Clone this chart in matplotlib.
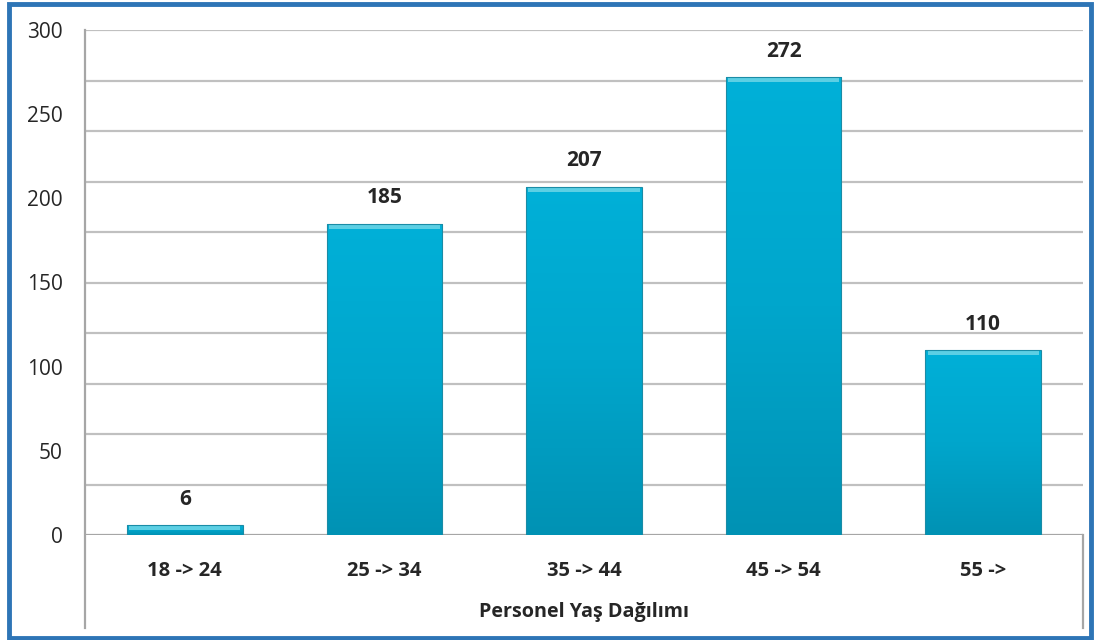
import matplotlib
matplotlib.use("Agg")
import matplotlib.pyplot as plt
import numpy as np
from matplotlib.lines import Line2D
from matplotlib.patches import Rectangle
from matplotlib.colors import LinearSegmentedColormap

categories = ["18 -> 24", "25 -> 34", "35 -> 44", "45 -> 54", "55 ->"]
values = [6, 185, 207, 272, 110]
ytick_values = [0, 50, 100, 150, 200, 250, 300]
grid_values = [30, 60, 90, 120, 150, 180, 210, 240, 270, 300]
xlabel = "Personel Yaş Dağılımı"

plt.rcParams['font.family'] = ['Open Sans', 'DejaVu Sans']

W, H = 1095, 640
fig = plt.figure(figsize=(W/100, H/100), dpi=100)
L, R, B, T = 85, 1083, 535, 30
ax = fig.add_axes([L/W, 1-B/H, (R-L)/W, (B-T)/H])
ax.set_xlim(-0.5, len(categories)-0.5)
ax.set_ylim(0, 300)

for g in grid_values:
    ax.axhline(g, color='#C0C0C0', lw=1.6, zorder=0)
ax.axhline(0, color='#A6A6A6', lw=1.6, zorder=0)

cmap = LinearSegmentedColormap.from_list('b', ['#0092B4', '#00A6CC', '#00B0D8'])
grad = np.linspace(0, 1, 256).reshape(-1, 1)
bw = 0.58
x = np.arange(len(categories))
bars = ax.bar(x, values, width=bw, color='#00A5CC', edgecolor='none', zorder=2)
for b, v in zip(bars, values):
    x0, x1 = b.get_x(), b.get_x() + b.get_width()
    im = ax.imshow(grad, extent=(x0, x1, 0, v), origin='lower', cmap=cmap,
                   aspect='auto', zorder=3)
    im.set_clip_path(b)
    # top bevel highlight
    hb = min(3, v * 0.6)
    ax.bar(b.get_x() + b.get_width()/2, hb, width=b.get_width()*0.96,
           bottom=v - hb, color='#5CCFE4', edgecolor='none', zorder=4)
    ax.bar(b.get_x() + b.get_width()/2, v, width=b.get_width(),
           color='none', edgecolor='#1A8CA6', lw=0.8, zorder=5)
    ax.text(b.get_x() + b.get_width()/2, v + 9, str(v), ha='center', va='bottom',
            fontsize=15, fontweight='bold', color='#262626')

ax.set_xticks(x)
ax.set_xticklabels(categories, fontsize=14.5, fontweight='bold', color='#262626')
ax.set_yticks(ytick_values)
ax.set_yticklabels([str(v) for v in ytick_values], fontsize=15, color='#262626')
ax.tick_params(axis='both', length=0)
ax.tick_params(axis='x', pad=19)
ax.tick_params(axis='y', pad=16)
for s in ax.spines.values():
    s.set_visible(False)
ax.set_xlim(-0.5, len(categories)-0.5)
ax.set_ylim(0, 300)

# axis lines
fig.add_artist(Line2D([L/W, L/W], [1-628/H, 1-T/H], color='#A6A6A6', lw=1.6))
fig.add_artist(Line2D([R/W, R/W], [1-628/H, 1-B/H], color='#A6A6A6', lw=1.6))

fig.text((L+R)/2/W, 1-612/H, xlabel, ha='center', va='center',
         fontsize=14.2, fontweight='bold', color='#262626')

# outer blue frame
fig.add_artist(Rectangle((9/W, 2/H), (1091-9)/W, (636-2)/H, fill=False,
                         edgecolor='#2E75B6', lw=3.5, transform=fig.transFigure))

fig.savefig("out.png", dpi=100, facecolor='white')
